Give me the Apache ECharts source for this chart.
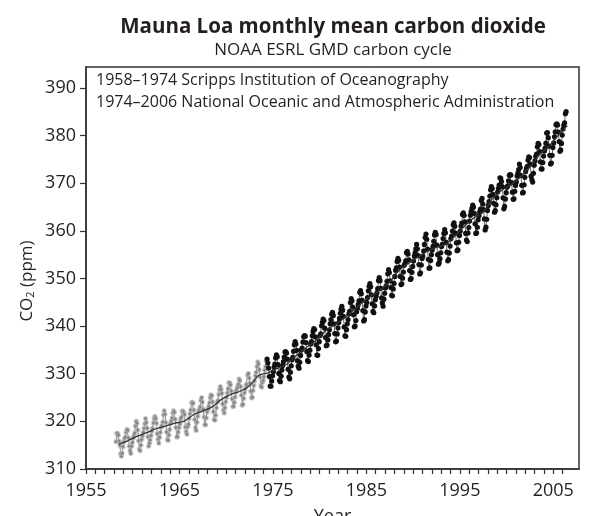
<!DOCTYPE html>
<html>
<head>
<meta charset="utf-8">
<script src="https://cdn.jsdelivr.net/npm/echarts@6/dist/echarts.min.js"></script>
<style>
html,body{margin:0;padding:0;background:#fff;}
#chart{width:600px;height:516px;}
</style>
</head>
<body>
<div id="chart"></div>
<script>
// Scripps monthly means, March 1958 .. April 1974 (ppm)
const scrippsStart = [1958, 3];
const scrippsCO2 = [
  315.71, 317.45, 317.50, 317.10, 315.86, 314.93, 313.20, 312.66, 313.33, 314.67,
  315.62, 316.38, 316.71, 317.72, 318.29, 318.15, 316.54, 314.80, 313.84, 313.26, 314.80, 315.58,
  316.43, 316.97, 317.58, 319.02, 320.03, 319.59, 318.18, 315.91, 314.16, 313.83, 315.00, 316.19,
  316.93, 317.70, 318.54, 319.48, 320.58, 319.77, 318.57, 316.79, 314.80, 315.38, 316.10, 317.01,
  317.94, 318.55, 319.68, 320.57, 321.02, 320.62, 319.61, 317.40, 316.25, 315.42, 316.69, 317.70,
  318.74, 319.07, 319.86, 321.38, 322.25, 321.48, 319.74, 317.77, 316.21, 315.99, 317.12, 318.31,
  319.57, 320.07, 320.73, 321.77, 322.25, 321.89, 320.44, 318.70, 316.70, 316.79, 317.79, 318.71,
  319.44, 320.44, 320.89, 322.13, 322.16, 321.87, 321.39, 318.81, 317.81, 317.30, 318.87, 319.42,
  320.62, 321.59, 322.39, 323.87, 324.01, 323.75, 322.39, 320.37, 318.64, 318.10, 319.79, 321.08,
  322.07, 322.50, 323.04, 324.42, 325.00, 324.09, 322.55, 320.92, 319.31, 319.31, 320.72, 321.96,
  322.57, 323.15, 323.89, 325.02, 325.57, 325.36, 324.14, 322.03, 320.41, 320.25, 321.31, 322.84,
  324.00, 324.42, 325.64, 326.66, 327.34, 326.76, 325.88, 323.67, 322.38, 321.78, 322.85, 324.11,
  325.03, 325.99, 326.87, 328.13, 328.07, 327.66, 326.35, 324.69, 323.10, 323.16, 323.98, 325.13,
  326.17, 326.68, 327.18, 327.78, 328.92, 328.57, 327.34, 325.46, 323.36, 323.57, 324.80, 326.01,
  326.77, 327.63, 327.75, 329.72, 330.07, 329.09, 328.05, 326.32, 324.93, 325.06, 326.50, 327.55,
  328.54, 329.56, 330.30, 331.50, 332.48, 332.07, 330.87, 329.31, 327.51, 327.18, 328.16, 328.64,
  329.35, 330.71, 331.48, 332.65
];

// NOAA monthly means, May 1974 .. May 2006 (ppm)
const noaaStart = [1974, 5];
const noaaCO2 = [
  333.09, 332.25, 331.18, 329.40, 327.43, 327.37, 328.46, 329.57,
  330.40, 331.40, 332.04, 333.31, 333.96, 333.59, 331.91, 330.06, 328.56, 328.34, 329.49, 330.76,
  331.75, 332.56, 333.50, 334.58, 334.57, 334.34, 333.05, 330.94, 329.30, 328.94, 330.31, 331.68,
  332.93, 333.42, 334.70, 336.07, 336.75, 336.27, 334.92, 332.75, 331.59, 331.16, 332.40, 333.85,
  334.97, 335.38, 336.64, 337.76, 338.01, 337.89, 336.54, 334.68, 332.76, 332.55, 333.92, 334.95,
  336.23, 336.76, 337.96, 338.88, 339.47, 339.29, 337.73, 336.09, 333.91, 333.86, 335.29, 336.73,
  338.01, 338.36, 340.08, 340.77, 341.46, 341.17, 339.56, 337.60, 335.88, 336.01, 337.10, 338.21,
  339.24, 340.48, 341.38, 342.51, 342.91, 342.25, 340.49, 338.43, 336.69, 336.85, 338.36, 339.61,
  340.75, 341.61, 342.70, 343.56, 344.13, 343.35, 342.06, 339.82, 337.97, 337.86, 339.26, 340.49,
  341.38, 342.52, 343.10, 344.94, 345.75, 345.32, 343.99, 342.39, 339.86, 339.99, 341.16, 342.99,
  343.70, 344.51, 345.28, 347.08, 347.43, 346.79, 345.40, 343.28, 341.07, 341.35, 342.98, 344.22,
  344.97, 345.99, 347.42, 348.35, 348.93, 348.25, 346.56, 344.67, 343.09, 342.80, 344.24, 345.56,
  346.29, 346.96, 347.86, 349.55, 350.21, 349.54, 347.94, 345.91, 344.86, 344.17, 345.66, 346.90,
  348.02, 348.47, 349.42, 350.99, 351.84, 351.25, 349.52, 348.10, 346.44, 346.36, 347.81, 348.96,
  350.43, 351.72, 352.22, 353.59, 354.22, 353.79, 352.39, 350.44, 348.72, 348.88, 350.07, 351.34,
  352.76, 353.07, 353.68, 355.42, 355.67, 355.13, 353.90, 351.67, 349.80, 349.99, 351.30, 352.53,
  353.66, 354.70, 355.39, 356.20, 357.16, 356.22, 354.82, 352.91, 350.96, 351.18, 352.83, 354.21,
  354.72, 355.75, 357.16, 358.60, 359.34, 358.24, 356.17, 354.02, 352.15, 352.21, 353.75, 354.99,
  355.99, 356.72, 357.81, 359.15, 359.66, 359.25, 357.02, 355.00, 353.01, 353.31, 354.16, 355.40,
  356.70, 357.17, 358.38, 359.46, 360.28, 359.60, 357.57, 355.52, 353.70, 353.98, 355.33, 356.80,
  358.36, 358.91, 359.97, 361.26, 361.68, 360.95, 359.55, 357.49, 355.84, 356.00, 357.58, 359.04,
  359.97, 361.00, 361.64, 363.45, 363.79, 363.26, 361.90, 359.46, 358.06, 357.75, 359.56, 360.70,
  362.05, 363.25, 364.03, 364.72, 365.41, 364.97, 363.65, 361.49, 359.46, 359.60, 360.76, 362.33,
  363.18, 363.99, 364.56, 366.36, 366.80, 365.63, 364.47, 362.50, 360.19, 360.78, 362.43, 364.28,
  365.33, 366.15, 367.31, 368.61, 369.30, 368.88, 367.64, 365.78, 363.90, 364.23, 365.46, 366.97,
  368.15, 368.87, 369.59, 371.14, 371.00, 370.35, 369.27, 366.94, 364.63, 365.12, 366.67, 368.01,
  369.14, 369.46, 370.52, 371.66, 371.82, 371.70, 370.12, 368.12, 366.62, 366.73, 368.29, 369.53,
  370.28, 371.50, 372.12, 372.87, 374.02, 373.30, 371.62, 369.55, 367.96, 368.09, 369.68, 371.24,
  372.44, 373.08, 373.52, 374.85, 375.55, 375.40, 374.02, 371.48, 370.71, 370.25, 372.08, 373.78,
  374.68, 375.63, 376.11, 377.65, 378.35, 378.13, 376.62, 374.50, 372.99, 373.00, 374.35, 375.70,
  376.79, 377.37, 378.41, 380.52, 380.63, 379.57, 377.79, 375.86, 374.06, 374.24, 375.86, 377.48,
  378.46, 379.73, 380.77, 382.29, 382.45, 382.21, 380.74, 378.74, 376.70, 377.00, 378.35, 380.11,
  381.38, 382.19, 382.67, 384.61, 385.03
];

// Deseasonalized trend (annual values, plotted mid-year)
const trendYears = [1958, 1959, 1960, 1961, 1962, 1963, 1964, 1965, 1966, 1967, 1968, 1969, 1970, 1971, 1972, 1973, 1974, 1975, 1976, 1977, 1978, 1979, 1980, 1981, 1982, 1983, 1984, 1985, 1986, 1987, 1988, 1989, 1990, 1991, 1992, 1993, 1994, 1995, 1996, 1997, 1998, 1999, 2000, 2001, 2002, 2003, 2004, 2005, 2006];
const trendCO2 = [315.2, 315.97, 316.91, 317.64, 318.45, 318.99, 319.62, 320.04, 321.38, 322.16, 323.04, 324.62, 325.68, 326.32, 327.46, 329.68, 330.19, 331.12, 332.03, 333.84, 335.41, 336.84, 338.76, 340.12, 341.48, 343.15, 344.85, 346.35, 347.61, 349.31, 351.69, 353.20, 354.45, 355.70, 356.54, 357.21, 358.96, 360.97, 362.74, 363.88, 366.84, 368.54, 369.71, 371.32, 373.45, 375.98, 377.70, 379.98, 382.1];

// Axis ticks and labels
const xTickYears = [1955,1956,1957,1958,1959,1960,1961,1962,1963,1964,1965,1966,1967,1968,1969,1970,1971,1972,1973,1974,1975,1976,1977,1978,1979,1980,1981,1982,1983,1984,1985,1986,1987,1988,1989,1990,1991,1992,1993,1994,1995,1996,1997,1998,1999,2000,2001,2002,2003,2004,2005,2006];
const xLabelYears = [1955, 1965, 1975, 1985, 1995, 2005];
const yTicks = [310, 320, 330, 340, 350, 360, 370, 380, 390];

const titleText = 'Mauna Loa monthly mean carbon dioxide';
const subtitleText = 'NOAA ESRL GMD carbon cycle';
const sourceLines = ['1958\u20131974 Scripps Institution of Oceanography', '1974\u20132006 National Oceanic and Atmospheric Administration'];

function toPairs(start, vals) {
  return vals.map((v, i) => [start[0] + (start[1] - 1 + i + 0.5) / 12, v]);
}

const FONT = '"Open Sans", "Liberation Sans", sans-serif';
const TXT = '#231f20';

const chart = echarts.init(document.getElementById('chart'), null, {renderer: 'canvas'});
chart.setOption({
  animation: false,
  backgroundColor: '#fff',
  grid: {left: 86, top: 67, width: 493, height: 402, containLabel: false, outerBoundsMode: 'none',
         show: true, borderColor: '#333', borderWidth: 1.5, backgroundColor: 'transparent'},
  graphic: [
    {type: 'text', x: 333, y: 27, style: {text: titleText, font: 'bold 20.5px ' + FONT, fill: TXT, textAlign: 'center', textVerticalAlign: 'middle'}},
    {type: 'text', x: 333, y: 50, style: {text: subtitleText, font: '17px ' + FONT, fill: TXT, textAlign: 'center', textVerticalAlign: 'middle'}},
    {type: 'text', x: 96, y: 80, style: {text: sourceLines[0], font: '16px ' + FONT, fill: TXT, textAlign: 'left', textVerticalAlign: 'middle'}},
    {type: 'text', x: 96, y: 102, style: {text: sourceLines[1], font: '16px ' + FONT, fill: TXT, textAlign: 'left', textVerticalAlign: 'middle'}},
    {type: 'text', x: 27, y: 281, rotation: Math.PI / 2, style: {
      text: 'CO{sub|2} (ppm)', font: '17px ' + FONT, fill: TXT, textAlign: 'center', textVerticalAlign: 'middle',
      rich: {sub: {fontFamily: FONT, fontSize: 11, fill: TXT, padding: [7, 0, 0, 0]}}
    }}
  ],
  xAxis: {
    type: 'value', min: 1955, max: 2007.75,
    name: 'Year', nameLocation: 'middle', nameGap: 39,
    nameTextStyle: {fontFamily: FONT, fontSize: 18, color: TXT},
    axisLine: {show: true, lineStyle: {color: '#333', width: 1.5}},
    axisTick: {show: true, length: 5, lineStyle: {color: '#333', width: 1.2}, customValues: xTickYears},
    axisLabel: {show: true, fontFamily: FONT, fontSize: 18, color: TXT, margin: 13, customValues: xLabelYears, formatter: v => String(v)},
    splitLine: {show: false}
  },
  yAxis: {
    type: 'value', min: 310, max: 394.4,
    axisLine: {show: true, lineStyle: {color: '#333', width: 1.5}},
    axisTick: {show: true, length: 6, lineStyle: {color: '#333', width: 1.2}, customValues: yTicks},
    axisLabel: {show: true, fontFamily: FONT, fontSize: 18, color: TXT, margin: 10, customValues: yTicks, formatter: v => String(v)},
    splitLine: {show: false}
  },
  series: [
    {
      type: 'line', data: toPairs(scrippsStart, scrippsCO2),
      showSymbol: true, showAllSymbol: true, symbol: 'circle', symbolSize: 3.5,
      itemStyle: {color: '#7a7a7a', borderColor: 'rgba(175,175,175,0.55)', borderWidth: 1.8},
      lineStyle: {color: '#8c8c8c', width: 1}, z: 2
    },
    {
      type: 'line', data: toPairs(noaaStart, noaaCO2),
      showSymbol: true, showAllSymbol: true, symbol: 'circle', symbolSize: 5.2,
      itemStyle: {color: '#111', borderWidth: 0},
      lineStyle: {color: '#444', width: 0.8}, z: 3
    },
    {
      type: 'line', data: trendYears.map((y, i) => [y + 0.5, trendCO2[i]]),
      showSymbol: false, smooth: 0.3,
      lineStyle: {color: '#333', width: 1.3}, z: 4
    }
  ]
});
</script>
</body>
</html>
